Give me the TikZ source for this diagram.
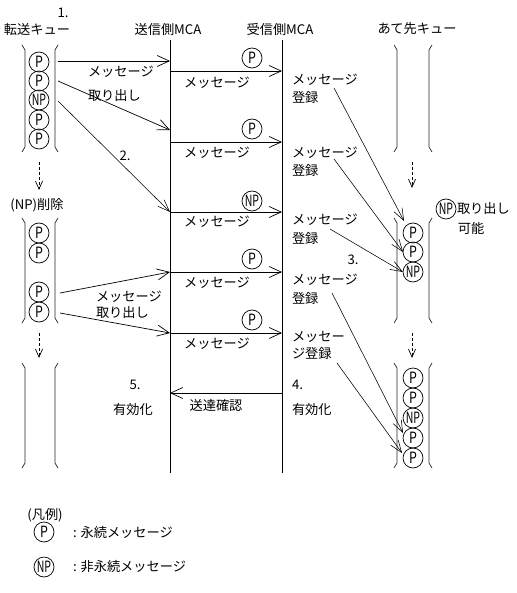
\documentclass[tikz,border=0pt]{standalone}
\usepackage{fontspec}
\usepackage{graphicx}
\setmainfont{Noto Sans CJK JP}
\usetikzlibrary{arrows.meta}
\newcommand\qbr[4]{%
  \draw[qline] ({#1-3},#3) -- ++(3,5) -- (#1,{#4-5}) -- ++(-3,5);
  \draw[qline] ({#2+3},#3) -- ++(-3,5) -- (#2,{#4-5}) -- ++(3,5);}
\newcommand\NPtxt{\scalebox{0.68}[1]{\fontsize{15.5}{16}\selectfont NP}}
\newcommand\Ptxt{\scalebox{0.8}[1]{\fontsize{15.5}{16}\selectfont P}}
\begin{document}
\begin{tikzpicture}[x=1pt,y=-1pt,
  every node/.style={inner sep=0pt,outer sep=0pt},
  lbl/.style={font=\fontsize{13.2}{15}\selectfont},
  msgc/.style={circle,draw,line width=0.7pt,minimum size=20pt},
  qline/.style={line width=0.7pt,black!85},
  life/.style={line width=1pt},
  arr/.style={line width=0.7pt,-{Straight Barb[length=12pt,width=11pt]}},
  thinarr/.style={line width=0.55pt,-{Straight Barb[length=12pt,width=9pt]}},
  darr/.style={line width=0.7pt,dash pattern=on 3pt off 2pt,-{Straight Barb[length=8pt,width=7pt]}}]
\useasboundingbox (0,0) rectangle (516,593);

% headers
\node[lbl] (n1) at (63,13) {1.};
\node[lbl] (hq) at (37,29) {転送キュー};
\node[lbl] (hs) at (168,29) {送信側MCA};
\node[lbl] (hr) at (280,29) {受信側MCA};
\node[lbl] (hd) at (417,29) {あて先キュー};

% lifelines
\coordinate (sT) at (170,40); \coordinate (sB) at (170,473);
\coordinate (rT) at (282,40); \coordinate (rB) at (282,473);
\draw[life] (sT) -- (sB);
\draw[life] (rT) -- (rB);

% queue brackets
\qbr{25}{55}{45}{152}
\qbr{25}{55}{218}{323}
\qbr{25}{55}{363}{468}
\qbr{397}{429}{45}{152}
\qbr{397}{429}{218}{323}
\qbr{397}{429}{363}{468}

% transfer queue 1
\node[msgc] (a1) at (39,62) {\Ptxt};
\node[msgc] (a2) at (39,81) {\Ptxt};
\node[msgc] (a3) at (39,100) {\NPtxt};
\node[msgc] (a4) at (39,120) {\Ptxt};
\node[msgc] (a5) at (39,139) {\Ptxt};
\coordinate (d1s) at (39,162); \coordinate (d1e) at (39,190);
\draw[darr] (d1s) -- (d1e);
\node[lbl] (del) at (37,205) {(NP)削除};
% transfer queue 2
\node[msgc] (b1) at (39,233) {\Ptxt};
\node[msgc] (b2) at (39,253) {\Ptxt};
\node[msgc] (b3) at (39,292) {\Ptxt};
\node[msgc] (b4) at (39,312) {\Ptxt};
\coordinate (d2s) at (39,333); \coordinate (d2e) at (39,358);
\draw[darr] (d2s) -- (d2e);

% retrieval arrows
\coordinate (q1a) at (58,61);  \coordinate (s1a) at (170,61);
\coordinate (q1b) at (58,81);  \coordinate (s1b) at (170,130);
\coordinate (q1c) at (58,101); \coordinate (s1c) at (170,212);
\coordinate (q2a) at (60,293); \coordinate (s2a) at (170,272);
\coordinate (q2b) at (60,313); \coordinate (s2b) at (170,333);
\draw[arr] (q1a) -- (s1a);
\draw[arr] (q1b) -- (s1b);
\draw[thinarr] (q1c) -- (s1c);
\draw[arr] (q2a) -- (s2a);
\draw[arr] (q2b) -- (s2b);
\node[lbl,anchor=west] (t1a) at (88,72) {メッセージ};
\node[lbl,anchor=west] (t1b) at (88,96) {取り出し};
\node[lbl] (n2) at (125,156) {2.};
\node[lbl,anchor=west] (t2a) at (96,297) {メッセージ};
\node[lbl,anchor=west] (t2b) at (96,313) {取り出し};

% sender -> receiver messages
\foreach \y/\yc/\yt/\txt/\k in {71/58/83/\Ptxt/1,142/129/153/\Ptxt/2,212/201/222/\NPtxt/3,272/259/283/\Ptxt/4,333/320/344/\Ptxt/5}{
  \coordinate (ms\k) at (170,\y);
  \coordinate (mr\k) at (282,\y);
  \draw[arr] (ms\k) -- (mr\k);
  \node[msgc] (mc\k) at (252,\yc) {\txt};
  \node[lbl] (ml\k) at (217,\yt) {メッセージ};
}

% receiver labels
\node[lbl,anchor=west] (r1a) at (292,80) {メッセージ};
\node[lbl,anchor=west] (r1b) at (292,97) {登録};
\node[lbl,anchor=west] (r2a) at (292,153) {メッセージ};
\node[lbl,anchor=west] (r2b) at (292,170) {登録};
\node[lbl,anchor=west] (r3a) at (292,220) {メッセージ};
\node[lbl,anchor=west] (r3b) at (292,238) {登録};
\node[lbl,anchor=west] (r4a) at (292,280) {メッセージ};
\node[lbl,anchor=west] (r4b) at (292,298) {登録};
\node[lbl,anchor=west] (r5a) at (292,337) {メッセー};
\node[lbl,anchor=west] (r5b) at (292,353) {ジ登録};
\node[lbl] (n3) at (353,260) {3.};

% destination queue contents
\node[msgc] (c1) at (413,233) {\Ptxt};
\node[msgc] (c2) at (413,252) {\Ptxt};
\node[msgc] (c3) at (413,272) {\NPtxt};
\node[msgc] (e1) at (413,378) {\Ptxt};
\node[msgc] (e2) at (413,398) {\Ptxt};
\node[msgc] (e3) at (413,418) {\NPtxt};
\node[msgc] (e4) at (413,438) {\Ptxt};
\node[msgc] (e5) at (413,458) {\Ptxt};
\coordinate (d3s) at (412,162); \coordinate (d3e) at (412,188);
\draw[darr] (d3s) -- (d3e);
\coordinate (d4s) at (412,333); \coordinate (d4e) at (412,358);
\draw[darr] (d4s) -- (d4e);
\node[msgc] (npc) at (446,209) {\NPtxt};
\node[lbl,anchor=west] (npt) at (457,209) {取り出し};
\node[lbl] (npk) at (471,228) {可能};

% registration arrows
\coordinate (g1s) at (334,88);  \coordinate (g1e) at (404,221);
\coordinate (g2s) at (334,159); \coordinate (g2e) at (403,252);
\coordinate (g3s) at (330,229); \coordinate (g3e) at (403,272);
\coordinate (g4s) at (332,293); \coordinate (g4e) at (403,433);
\coordinate (g5s) at (337,363); \coordinate (g5e) at (402,453);
\foreach \k in {1,...,5}{\draw[thinarr] (g\k s) -- (g\k e);}

% acknowledgement
\coordinate (ackS) at (282,393); \coordinate (ackE) at (170,393);
\draw[arr] (ackS) -- (ackE);
\node[lbl] (ackt) at (216,405) {送達確認};
\node[lbl] (n5) at (135,385) {5.};
\node[lbl] (v5) at (133,410) {有効化};
\node[lbl,anchor=west] (n4) at (292,385) {4.};
\node[lbl,anchor=west] (v4) at (292,410) {有効化};

% legend
\node[lbl] (leg) at (45,515) {(凡例)};
\node[msgc] (lp) at (44,532) {\Ptxt};
\node[lbl,anchor=west] (lpt) at (73,532) {: 永続メッセージ};
\node[msgc] (lnp) at (44,567) {\NPtxt};
\node[lbl,anchor=west] (lnpt) at (73,567) {: 非永続メッセージ};
\end{tikzpicture}
\end{document}
